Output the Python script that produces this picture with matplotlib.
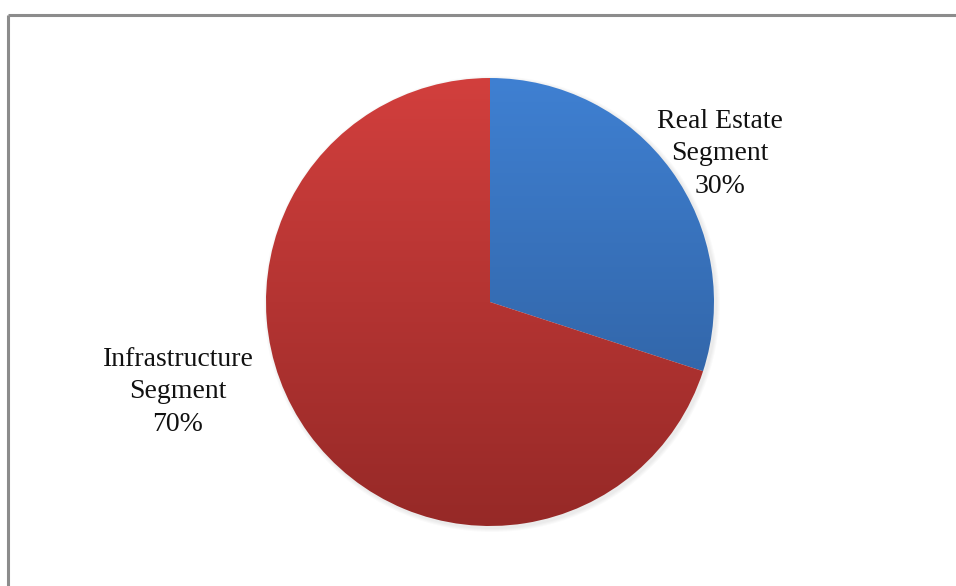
import numpy as np
import matplotlib.pyplot as plt
from matplotlib.colors import LinearSegmentedColormap

# Revenue share by business segment
segments = ["Real Estate\nSegment", "Infrastructure\nSegment"]
shares = [30, 70]

# top -> bottom gradient colours for each slice
grad_top = ["#3f80d2", "#d23f3d"]
grad_bottom = ["#2c5a96", "#962927"]

W, H = 956, 586
fig = plt.figure(figsize=(W / 100, H / 100), dpi=100)
ax = fig.add_axes([0, 0, 1, 1])

cx, cy, r = 490, H - 302, 224

wedges, _ = ax.pie(shares, startangle=90, counterclock=False,
                   center=(cx, cy), radius=r, frame=True,
                   wedgeprops=dict(linewidth=0))

# soft shadow along the rim
for k in range(4):
    sh = plt.Circle((cx + 2, cy - 2), r + 1 + k, color="#000000",
                    alpha=0.02, lw=0, zorder=0)
    ax.add_patch(sh)

# vertical gradient fill clipped to each wedge
grad = np.linspace(0, 1, 256).reshape(-1, 1)
for w, c0, c1 in zip(wedges, grad_top, grad_bottom):
    w.set_facecolor("none")
    cmap = LinearSegmentedColormap.from_list("g", [c0, c1])
    im = ax.imshow(grad, cmap=cmap, aspect="auto",
                   extent=(cx - r, cx + r, cy - r, cy + r),
                   origin="upper", zorder=1, interpolation="bilinear")
    im.set_clip_path(w)

ax.set_xlim(0, W)
ax.set_ylim(0, H)
ax.set_aspect("equal")
ax.axis("off")

# segment labels
label_pos = [(720, H - 154), (178, H - 392)]
for name, val, (tx, ty) in zip(segments, shares, label_pos):
    ax.text(tx, ty, f"{name}\n{val}%", ha="center", va="center",
            fontsize=20, family="Liberation Serif", color="#111111",
            linespacing=1.4)

# frame lines on top and left
ax.plot([8, W], [H - 15, H - 15], color="#8c8c8c", lw=2.2,
        solid_capstyle="butt")
ax.plot([8, 8], [0, H - 15], color="#8c8c8c", lw=2.2,
        solid_capstyle="butt")

fig.savefig("out.png", dpi=100)
